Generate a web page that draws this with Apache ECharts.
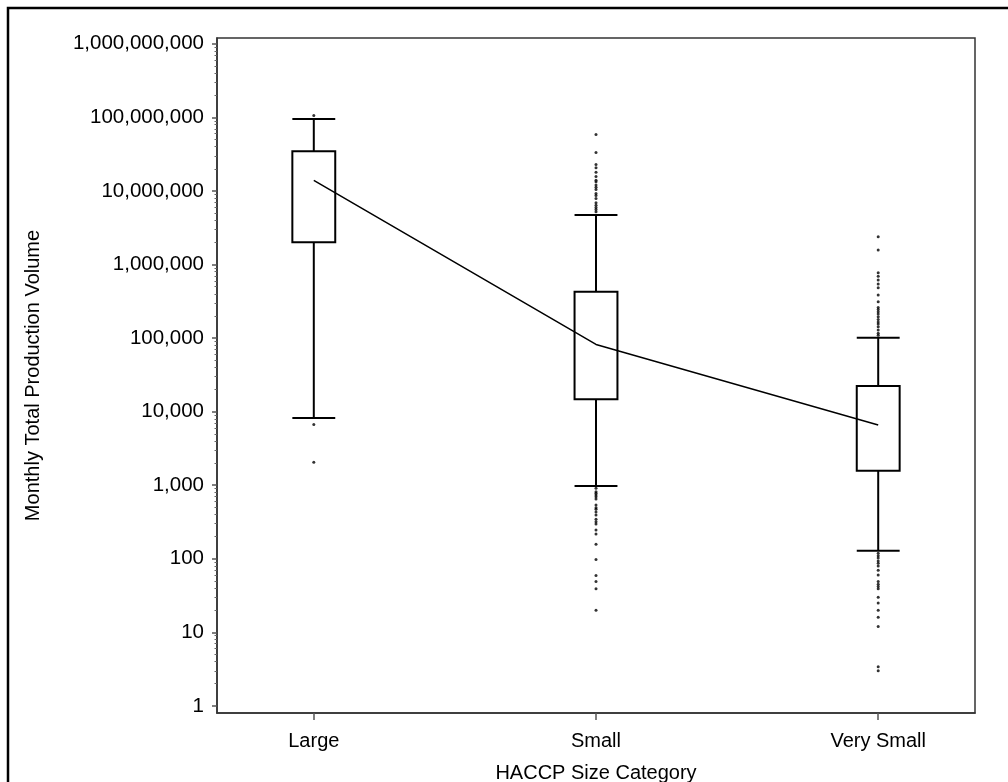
<!DOCTYPE html>
<html><head><meta charset="utf-8">
<script src="https://cdn.jsdelivr.net/npm/echarts@6/dist/echarts.min.js"></script>
<style>html,body{margin:0;padding:0;background:#fff}#c{width:1008px;height:782px}</style>
</head><body><div id="c"></div>
<script>
const categories = ['Large', 'Small', 'Very Small'];
const whiskerLow = [8200, 975, 128];
const q1 = [2000000, 14700, 1570];
const q3 = [34700000, 426000, 22300];
const whiskerHigh = [95000000, 4700000, 101000];
const centerLine = [13900000, 82000, 6580];
const outliersLarge = [106000000, 6700, 2050];
const outliersSmall = [58600000, 33300000, 22900000, 20600000, 18000000, 15700000, 14000000, 13300000,
  12000000, 11200000, 10500000, 9250000, 8690000, 7910000, 6890000, 6410000, 5970000, 5610000, 5200000,
  908, 816, 776, 736, 698, 649, 538, 495, 471, 433, 394, 344, 319, 297, 246, 217, 157, 98, 59, 49, 39, 20];
const outliersVerySmall = [2380000, 1570000, 771000, 695000, 614000, 542000, 482000, 384000, 311000, 261000,
  245000, 228000, 212000, 195000, 179000, 166000, 155000, 142000, 129000, 116000, 109000,
  119, 110, 102, 93, 87, 80, 70, 60, 49, 45, 42, 39, 30, 25, 20, 16, 12, 3.4, 3.0];
const yTickValues = [1, 10, 100, 1000, 10000, 100000, 1000000, 10000000, 100000000, 1000000000];
const minorMultipliers = [2, 3, 4, 5, 6, 7, 8, 9];

const FONT = "'Liberation Sans', Arial, sans-serif";
const yMin = 0.8, yMax = 1.2e9;
const xMin = 0.657, xMax = 3.343;

const minorTicks = [];
yTickValues.slice(0, -1).forEach(d => minorMultipliers.forEach(m => minorTicks.push(d * m)));

const boxData = categories.map((c, i) => [i + 1, whiskerLow[i], q1[i], q3[i], whiskerHigh[i]]);
const outlierGroups = [outliersLarge, outliersSmall, outliersVerySmall];
const outlierData = [];
outlierGroups.forEach((g, i) => g.forEach(v => outlierData.push([i + 1, v])));
const lineData = centerLine.map((v, i) => [i + 1, v]);

const HALF = 0.076;
function renderBox(params, api) {
  const x = api.value(0);
  const pt = (dx, v) => api.coord([x + dx, v]);
  const lo = api.value(1), a = api.value(2), b = api.value(3), hi = api.value(4);
  const style = { stroke: '#000', lineWidth: 2, fill: null };
  const tl = pt(-HALF, b), br = pt(HALF, a);
  return {
    type: 'group',
    children: [
      { type: 'rect', shape: { x: tl[0], y: tl[1], width: br[0] - tl[0], height: br[1] - tl[1] }, style: Object.assign({}, style, {fill: 'none'}) },
      { type: 'line', shape: { x1: pt(0, b)[0], y1: pt(0, b)[1], x2: pt(0, hi)[0], y2: pt(0, hi)[1] }, style },
      { type: 'line', shape: { x1: pt(0, a)[0], y1: pt(0, a)[1], x2: pt(0, lo)[0], y2: pt(0, lo)[1] }, style },
      { type: 'line', shape: { x1: pt(-HALF, hi)[0], y1: pt(-HALF, hi)[1], x2: pt(HALF, hi)[0], y2: pt(HALF, hi)[1] }, style },
      { type: 'line', shape: { x1: pt(-HALF, lo)[0], y1: pt(-HALF, lo)[1], x2: pt(HALF, lo)[0], y2: pt(HALF, lo)[1] }, style }
    ]
  };
}

const chart = echarts.init(document.getElementById('c'), null, { renderer: 'canvas' });
chart.setOption({
  animation: false,
  backgroundColor: '#fff',
  textStyle: { fontFamily: FONT },
  graphic: [{
    type: 'rect', shape: { x: 8, y: 8, width: 1100, height: 1000 },
    style: { stroke: '#000', lineWidth: 2.5, fill: null }, silent: true, z: 100
  }],
  grid: { left: 217, right: 33, top: 38, bottom: 69, show: true, borderColor: '#333', borderWidth: 1.5,
    backgroundColor: 'transparent', containLabel: false, outerBoundsMode: 'none' },
  xAxis: {
    type: 'value', min: xMin, max: xMax,
    name: 'HACCP Size Category', nameLocation: 'middle', nameGap: 50,
    nameTextStyle: { fontSize: 20, color: '#000', fontFamily: FONT },
    axisLine: { show: true, lineStyle: { color: '#333', width: 1.5 } },
    axisTick: { show: true, length: 7, customValues: [1, 2, 3], lineStyle: { color: '#555', width: 1.5 } },
    axisLabel: { customValues: [1, 2, 3], margin: 18, fontSize: 20, color: '#000', fontFamily: FONT,
      formatter: v => categories[Math.round(v) - 1] },
    splitLine: { show: false }
  },
  yAxis: [{
    type: 'log', logBase: 10, min: yMin, max: yMax,
    name: 'Monthly Total Production Volume', nameLocation: 'middle', nameGap: 174,
    nameTextStyle: { fontSize: 20, color: '#000', fontFamily: FONT },
    axisLine: { show: true, lineStyle: { color: '#333', width: 1.5 } },
    axisTick: { show: true, length: 5, customValues: yTickValues, lineStyle: { color: '#555', width: 1.5 } },
    axisLabel: { customValues: yTickValues, margin: 13, fontSize: 20.5, color: '#000', fontFamily: FONT,
      formatter: v => Math.round(v).toLocaleString('en-US') },
    splitLine: { show: false }
  }, {
    type: 'log', logBase: 10, min: yMin, max: yMax, position: 'left',
    axisLine: { show: false },
    axisTick: { show: true, length: 2.5, customValues: minorTicks, lineStyle: { color: '#666', width: 1 } },
    axisLabel: { show: false },
    splitLine: { show: false }
  }],
  series: [
    { type: 'custom', renderItem: renderBox, data: boxData, xAxisIndex: 0, yAxisIndex: 0, z: 2 },
    { type: 'scatter', data: outlierData, symbol: 'circle', symbolSize: 3, itemStyle: { color: '#000' }, z: 3 },
    { type: 'line', data: lineData, symbol: 'none', lineStyle: { color: '#000', width: 1.5 }, z: 4 }
  ]
});
</script></body></html>
